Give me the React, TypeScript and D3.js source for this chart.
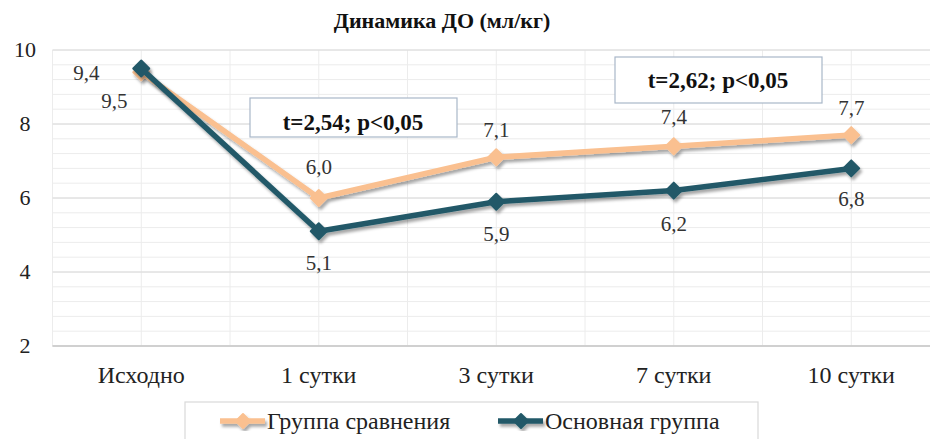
import React from "react";
import * as d3 from "d3";

const categories = ["Исходно", "1 сутки", "3 сутки", "7 сутки", "10 сутки"];
const comparisonGroup = [9.4, 6.0, 7.1, 7.4, 7.7];
const mainGroup = [9.5, 5.1, 5.9, 6.2, 6.8];
const yTicks = [2, 4, 6, 8, 10];
const seriesNames = ["Группа сравнения", "Основная группа"];
const annotations = ["t=2,54; p<0,05", "t=2,62; p<0,05"];

const W = 930;
const H = 439;
const ORANGE = "#FAC090";
const TEAL = "#215968";
const FONT = "Liberation Serif, Times New Roman, DejaVu Serif, serif";

// label offsets relative to the point (dx, dy of baseline)
const orangeLabelPos = [[-55, 8], [0, -24], [0, -20], [0, -22], [0, -20]];
const tealLabelPos = [[-27, 39], [0, 39], [0, 39], [0, 40], [0, 38]];

const fmt = (v: number) => v.toFixed(1).replace(".", ",");

function Diamond({ cx, cy, r, fill }: { cx: number; cy: number; r: number; fill: string }) {
  const p = `M${cx},${cy - r}L${cx + r},${cy}L${cx},${cy + r}L${cx - r},${cy}Z`;
  return <path d={p} fill={fill} stroke={fill} strokeWidth={2} strokeLinejoin="round" />;
}

export default function App() {
  const x = d3.scaleBand<string>().domain(categories).range([52.5, 940]).paddingInner(0).paddingOuter(0);
  const y = d3.scaleLinear().domain([2, 10]).range([346, 50]);
  const cx = (c: string) => (x(c) as number) + x.bandwidth() / 2;

  const minor = d3.range(2, 10.001, 0.4);
  const vLines: number[] = [];
  categories.forEach((c) => {
    vLines.push(x(c) as number);
    vLines.push(cx(c));
  });

  const line = d3
    .line<number>()
    .x((_, i) => cx(categories[i]))
    .y((d) => y(d));

  const series = [
    { name: seriesNames[0], values: comparisonGroup, color: ORANGE, pos: orangeLabelPos },
    { name: seriesNames[1], values: mainGroup, color: TEAL, pos: tealLabelPos },
  ];

  return (
    <svg width={W} height={H} style={{ position: "absolute", left: 0, top: 0, background: "#fff" }}>
      <defs>
        <filter id="shadow" x="-20%" y="-20%" width="140%" height="140%">
          <feDropShadow dx="2" dy="3" stdDeviation="1.8" floodColor="#000" floodOpacity="0.35" />
        </filter>
      </defs>

      <text x={442} y={28} textAnchor="middle" fontWeight="bold" fontSize={22} fill="#111" fontFamily={FONT}>
        Динамика ДО (мл/кг)
      </text>

      {/* grid */}
      <g>
        {minor.map((v, i) => (
          <line key={"m" + i} x1={52.5} x2={W} y1={y(v)} y2={y(v)} stroke="#ececec" strokeWidth={1} />
        ))}
        {vLines.map((vx, i) => (
          <line key={"v" + i} x1={vx} x2={vx} y1={y(10)} y2={y(2)} stroke="#ececec" strokeWidth={1} />
        ))}
        {yTicks.map((v) => (
          <line key={"M" + v} x1={52.5} x2={W} y1={y(v)} y2={y(v)} stroke="#d9d9d9" strokeWidth={1.2} />
        ))}
        <line x1={52.5} x2={W} y1={y(2)} y2={y(2)} stroke="#c8c8c8" strokeWidth={1.3} />
      </g>

      {/* y ticks */}
      {yTicks.map((v) => (
        <text key={"yt" + v} x={25} y={y(v) + 7} textAnchor="middle" fontSize={22} fill="#222" fontFamily={FONT}>
          {v}
        </text>
      ))}

      {/* x labels */}
      {categories.map((c) => (
        <text key={"xl" + c} x={cx(c)} y={383} textAnchor="middle" fontSize={24} fill="#222" fontFamily={FONT}>
          {c}
        </text>
      ))}

      {/* annotation boxes */}
      <g>
        <rect x={250} y={98} width={207} height={39} fill="#fff" stroke="#a9b7c9" strokeWidth={1.2} />
        <text x={353} y={130} textAnchor="middle" fontWeight="bold" fontSize={23} fill="#111" fontFamily={FONT}>
          {annotations[0]}
        </text>
        <rect x={615} y={57} width={207} height={46} fill="#fff" stroke="#a9b7c9" strokeWidth={1.2} />
        <text x={718} y={88} textAnchor="middle" fontWeight="bold" fontSize={23} fill="#111" fontFamily={FONT}>
          {annotations[1]}
        </text>
      </g>

      {/* series */}
      <g>
        {series.map((s) => (
          <g key={s.name} filter="url(#shadow)">
            <path d={line(s.values) as string} fill="none" stroke={s.color} strokeWidth={5.5} strokeLinejoin="round" />
            {s.values.map((v, i) => (
              <Diamond key={i} cx={cx(categories[i])} cy={y(v)} r={8} fill={s.color} />
            ))}
          </g>
        ))}
      </g>

      {/* data labels */}
      {series.map((s) =>
        s.values.map((v, i) => (
          <text
            key={s.name + i}
            x={cx(categories[i]) + s.pos[i][0]}
            y={y(v) + s.pos[i][1]}
            textAnchor="middle"
            fontSize={21}
            fill="#333"
            fontFamily={FONT}
          >
            {fmt(v)}
          </text>
        ))
      )}

      {/* legend */}
      <g>
        <rect x={185} y={402} width={573} height={50} fill="#fff" stroke="#d9d9d9" strokeWidth={1.2} />
        {series.map((s, i) => {
          const lx = i === 0 ? 220 : 498;
          return (
            <g key={"lg" + s.name}>
              <g filter="url(#shadow)">
                <line x1={lx} x2={lx + 45} y1={421} y2={421} stroke={s.color} strokeWidth={5.5} />
                <Diamond cx={lx + 23} cy={421} r={7} fill={s.color} />
              </g>
              <text x={lx + 47} y={429} fontSize={24} fill="#222" fontFamily={FONT}>
                {s.name}
              </text>
            </g>
          );
        })}
      </g>
    </svg>
  );
}
